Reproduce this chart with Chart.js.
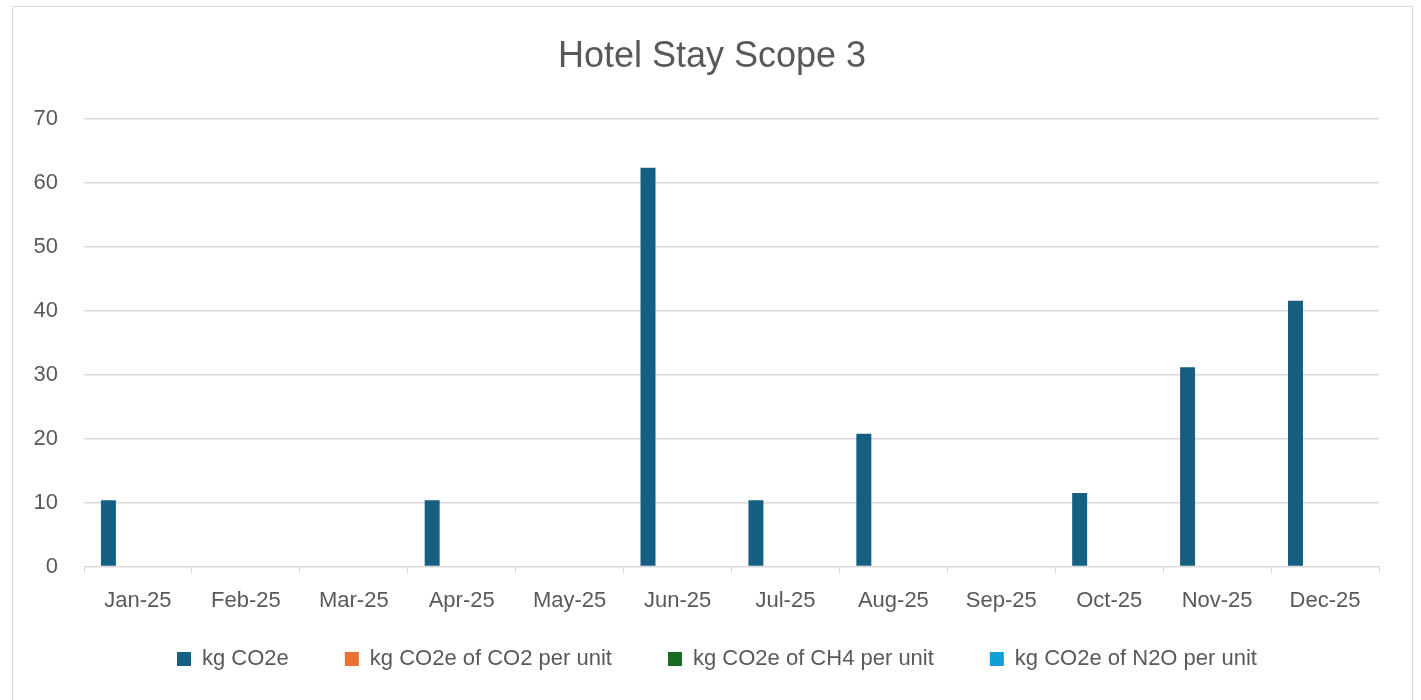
<!DOCTYPE html>
<html>
<head>
<meta charset="utf-8">
<script src="https://cdn.jsdelivr.net/npm/chart.js@4"></script>
<style>
  body { margin: 0; background: #fff; }
  #frame {
    position: absolute; left: 12px; top: 6px;
    width: 1399px; height: 720px;
    border: 1px solid #d9d9d9; background: #fff;
  }
  #wrap { position: relative; width: 1399px; height: 693px; }
</style>
</head>
<body>
<div id="frame"><div id="wrap"><canvas id="chart"></canvas></div></div>
<script>
const months = ["Jan-25", "Feb-25", "Mar-25", "Apr-25", "May-25", "Jun-25",
                "Jul-25", "Aug-25", "Sep-25", "Oct-25", "Nov-25", "Dec-25"];
const kgCO2e      = [10.4, 0, 0, 10.4, 0, 62.4, 10.4, 20.8, 0, 11.5, 31.2, 41.6];
const co2PerUnit  = [0, 0, 0, 0, 0, 0, 0, 0, 0, 0, 0, 0];
const ch4PerUnit  = [0, 0, 0, 0, 0, 0, 0, 0, 0, 0, 0, 0];
const n2oPerUnit  = [0, 0, 0, 0, 0, 0, 0, 0, 0, 0, 0, 0];
const yTicks = [0, 10, 20, 30, 40, 50, 60, 70];

const textColor = "#595959";
const gridColor = "#d9d9d9";
const fontFamily = "'Liberation Sans', Arial, sans-serif";

// nudge title and legend to where Excel puts them
const nudge = {
  id: "nudge",
  afterUpdate(chart) {
    const lg = chart.legend;
    if (lg) { lg.left += 21; lg.right += 21; lg.top -= 36; lg.bottom -= 36; }
    const tb = chart.titleBlock;
    if (tb) { tb.left += 16; tb.right += 16; }
  }
};

const ctx = document.getElementById("chart").getContext("2d");

new Chart(ctx, {
  type: "bar",
  data: {
    labels: months,
    datasets: [
      { label: "kg CO2e", data: kgCO2e, backgroundColor: "#156082" },
      { label: "kg CO2e of CO2 per unit", data: co2PerUnit, backgroundColor: "#E97132" },
      { label: "kg CO2e of CH4 per unit", data: ch4PerUnit, backgroundColor: "#196B24" },
      { label: "kg CO2e of N2O per unit", data: n2oPerUnit, backgroundColor: "#0F9ED5" }
    ]
  },
  plugins: [nudge],
  options: {
    responsive: true,
    maintainAspectRatio: false,
    animation: false,
    categoryPercentage: 0.73,
    barPercentage: 0.76,
    layout: { padding: { left: 0, right: 33, top: 0, bottom: -16 } },
    plugins: {
      title: {
        display: true,
        text: "Hotel Stay Scope 3",
        color: textColor,
        font: { family: fontFamily, size: 36, weight: "normal" },
        padding: { top: 28, bottom: 41 }
      },
      legend: {
        position: "bottom",
        labels: {
          color: textColor,
          font: { family: fontFamily, size: 22 },
          boxWidth: 14,
          boxHeight: 14,
          padding: 56
        }
      },
      tooltip: { enabled: false }
    },
    scales: {
      x: {
        grid: {
          offset: true,
          drawOnChartArea: false,
          drawTicks: true,
          tickLength: 7,
          color: gridColor
        },
        border: { display: true, color: gridColor, width: 1 },
        ticks: {
          color: textColor,
          font: { family: fontFamily, size: 22 },
          padding: 14,
          maxRotation: 0
        }
      },
      y: {
        min: 0,
        max: 70,
        afterFit: function (scale) { scale.width = 71; },
        afterBuildTicks: function (scale) {
          scale.ticks = yTicks.map(v => ({ value: v }));
        },
        grid: { color: gridColor, lineWidth: 1.5, drawTicks: false },
        border: { display: false },
        ticks: {
          color: textColor,
          font: { family: fontFamily, size: 22 },
          padding: 26
        }
      }
    }
  }
});
</script>
</body>
</html>
